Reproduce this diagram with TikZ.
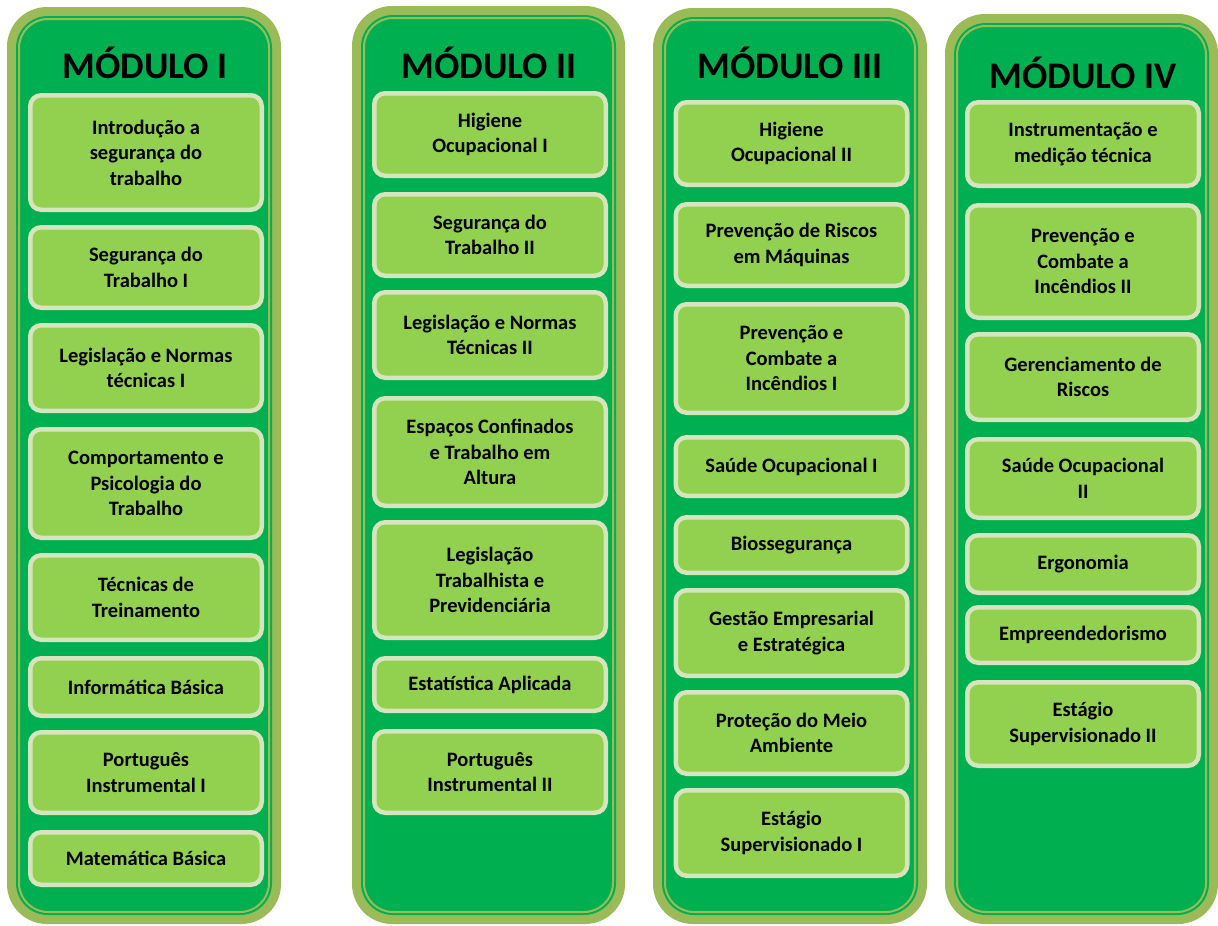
\documentclass[tikz,border=0pt]{standalone}
\usepackage{fontspec}
\setmainfont{Carlito}
\definecolor{rim}{HTML}{9BBB59}
\definecolor{dkgreen}{HTML}{00B050}
\definecolor{boxgreen}{HTML}{92D050}
\definecolor{boxrim}{HTML}{D7E4BD}
\tikzset{
  disc/.style={draw=boxrim, fill=boxgreen, line width=4.5pt, rounded corners=11pt,
    minimum width=231.5pt, inner sep=0pt, align=center,
    font=\bfseries\fontsize{20.5}{25.5}\selectfont},
  modtitle/.style={font=\bfseries\fontsize{37.5}{40}\selectfont, inner sep=0pt}
}
\begin{document}
\begin{tikzpicture}[x=1pt,y=-1pt]
\useasboundingbox (0,0) rectangle (1218,926);
% module columns
\foreach \xa/\ya/\xb in {7/7/281, 352/6/625, 653/8/927, 945/14/1218} {
  \fill[rim, rounded corners=40] (\xa,\ya) rectangle (\xb,924);
  \fill[dkgreen, rounded corners=32] (\xa+9,\ya+9) rectangle (\xb-9,915);
  \draw[rim, line width=2, rounded corners=29] (\xa+12,\ya+12) rectangle (\xb-12,912);
}
% module I
\node[modtitle] (t1) at (145,63) {MÓDULO I};
\node[disc, minimum height=114.5] (intro) at (146,152.5) {Introdução a\\segurança do\\trabalho};
\node[disc, minimum height=80.5] (segI) at (146,267.5) {Segurança do\\Trabalho I};
\node[disc, minimum height=85.5] (legI) at (146,368) {Legislação e Normas\\técnicas I};
\node[disc, minimum height=108.5] (comp) at (146,483.5) {Comportamento e\\Psicologia do\\Trabalho};
\node[disc, minimum height=84.5] (trein) at (146,597.5) {Técnicas de\\Treinamento};
\node[disc, minimum height=57.5] (info) at (146,687) {Informática Básica};
\node[disc, minimum height=80.5] (portI) at (146,772.5) {Português\\Instrumental I};
\node[disc, minimum height=52.5] (mat) at (146,858.5) {Matemática Básica};
% module II
\node[modtitle] (t2) at (489,63) {MÓDULO II};
\node[disc, minimum height=82.5] (higI) at (490,134.5) {Higiene\\Ocupacional I};
\node[disc, minimum height=81.5] (segII) at (490,235) {Segurança do\\Trabalho II};
\node[disc, minimum height=85.5] (legII) at (490,335) {Legislação e Normas\\Técnicas II};
\node[disc, minimum height=107.5] (conf) at (490,452) {Espaços Confinados\\e Trabalho em\\Altura};
\node[disc, minimum height=115.5] (prev) at (490,580) {Legislação\\Trabalhista e\\Previdenciária};
\node[disc, minimum height=52.5] (estat) at (490,684.5) {Estatística Aplicada};
\node[disc, minimum height=81.5] (portII) at (490,772) {Português\\Instrumental II};
% module III
\node[modtitle] (t3) at (790,63) {MÓDULO III};
\node[disc, minimum height=82.5] (higII) at (791.5,143.5) {Higiene\\Ocupacional II};
\node[disc, minimum height=81.5] (maq) at (791.5,245) {Prevenção de Riscos\\em Máquinas};
\node[disc, minimum height=108.5] (incI) at (791.5,358.5) {Prevenção e\\Combate a\\Incêndios I};
\node[disc, minimum height=58.5] (saudeI) at (791.5,466.5) {Saúde Ocupacional I};
\node[disc, minimum height=55.5] (bio) at (791.5,545) {Biossegurança};
\node[disc, minimum height=85.5] (gest) at (791.5,633) {Gestão Empresarial\\e Estratégica};
\node[disc, minimum height=81.5] (amb) at (791.5,733) {Proteção do Meio\\Ambiente};
\node[disc, minimum height=85.5] (estI) at (791.5,833) {Estágio\\Supervisionado I};
% module IV
\node[modtitle] (t4) at (1083,73) {MÓDULO IV};
\node[disc, minimum height=83.5] (instr) at (1083,144) {Instrumentação e\\medição técnica};
\node[disc, minimum height=112.5] (incII) at (1083,261.5) {Prevenção e\\Combate a\\Incêndios II};
\node[disc, minimum height=85.5] (ger) at (1083,377) {Gerenciamento de\\Riscos};
\node[disc, minimum height=78.5] (saudeII) at (1083,478.5) {Saúde Ocupacional\\II};
\node[disc, minimum height=57.5] (ergo) at (1083,564) {Ergonomia};
\node[disc, minimum height=55.5] (empr) at (1083,635) {Empreendedorismo};
\node[disc, minimum height=83.5] (estII) at (1083,724) {Estágio\\Supervisionado II};
\end{tikzpicture}
\end{document}
